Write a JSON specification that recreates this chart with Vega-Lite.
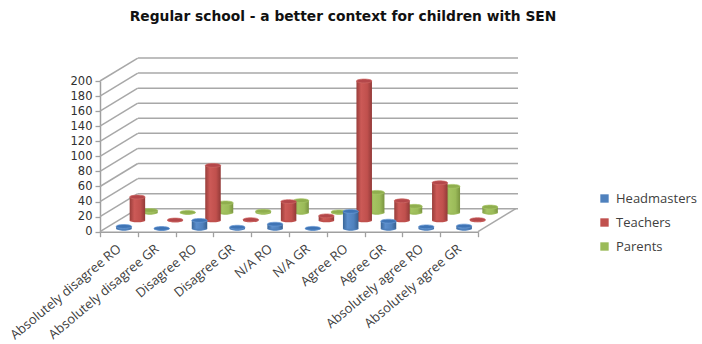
{
"$schema":"https://vega.github.io/schema/vega-lite/v6.json",
"width":378,"height":150.7,
"autosize":{"type":"none"},
"padding":{"left":100,"top":81,"right":224,"bottom":112.3},
"background":"white",
"view":{"stroke":null},
"title":{"text":"Regular school - a better context for children with SEN","anchor":"middle","dx":54,"offset":31,"font":"DejaVu Sans","fontSize":13.8,"fontWeight":"bold","color":"#111111"},
"datasets":{
"responses":[
{"category":"Absolutely disagree RO","series":"Headmasters","value":3},{"category":"Absolutely disagree RO","series":"Teachers","value":31},{"category":"Absolutely disagree RO","series":"Parents","value":3},
{"category":"Absolutely disagree GR","series":"Headmasters","value":0.3},{"category":"Absolutely disagree GR","series":"Teachers","value":0.5},{"category":"Absolutely disagree GR","series":"Parents","value":0.5},
{"category":"Disagree RO","series":"Headmasters","value":11},{"category":"Disagree RO","series":"Teachers","value":73},{"category":"Disagree RO","series":"Parents","value":13},
{"category":"Disagree GR","series":"Headmasters","value":2},{"category":"Disagree GR","series":"Teachers","value":1},{"category":"Disagree GR","series":"Parents","value":2},
{"category":"N/A RO","series":"Headmasters","value":6},{"category":"N/A RO","series":"Teachers","value":25},{"category":"N/A RO","series":"Parents","value":16},
{"category":"N/A GR","series":"Headmasters","value":0.5},{"category":"N/A GR","series":"Teachers","value":6},{"category":"N/A GR","series":"Parents","value":1},
{"category":"Agree RO","series":"Headmasters","value":23},{"category":"Agree RO","series":"Teachers","value":185},{"category":"Agree RO","series":"Parents","value":27},
{"category":"Agree GR","series":"Headmasters","value":10},{"category":"Agree GR","series":"Teachers","value":26},{"category":"Agree GR","series":"Parents","value":8.5},
{"category":"Absolutely agree RO","series":"Headmasters","value":2.5},{"category":"Absolutely agree RO","series":"Teachers","value":50},{"category":"Absolutely agree RO","series":"Parents","value":35},
{"category":"Absolutely agree GR","series":"Headmasters","value":3.5},{"category":"Absolutely agree GR","series":"Teachers","value":1},{"category":"Absolutely agree GR","series":"Parents","value":7.5}
],
"ticks":[{"tick":0},{"tick":20},{"tick":40},{"tick":60},{"tick":80},{"tick":100},{"tick":120},{"tick":140},{"tick":160},{"tick":180},{"tick":200}]
},
"data":{"name":"responses"},
"encoding":{
"x":{"field":"category","type":"nominal","title":null,
"scale":{"type":"band","paddingInner":0,"paddingOuter":0,"domain":["Absolutely disagree RO","Absolutely disagree GR","Disagree RO","Disagree GR","N/A RO","N/A GR","Agree RO","Agree GR","Absolutely agree RO","Absolutely agree GR"]},
"axis":{"tickBand":"extent","labelAngle":-40,"labelAlign":"right","labelBaseline":"middle","labelFont":"Open Sans","labelFontSize":13,"labelColor":"#404040","labelPadding":10,"tickSize":5,"tickColor":"#a0a0a0","domainColor":"#a0a0a0","tickWidth":1.3,"domainWidth":1.5,"labelOverlap":false,"labelBound":false,"labelLimit":220}},
"y":{"field":"value","type":"quantitative","title":null,
"scale":{"domain":[0,200],"nice":false},
"axis":{"values":[0,20,40,60,80,100,120,140,160,180,200],"labelFont":"DejaVu Sans","labelFontSize":11.5,"labelColor":"#303030","labelPadding":3,"tickSize":5,"tickColor":"#a0a0a0","domainColor":"#a0a0a0","tickWidth":1.3,"domainWidth":1.5,"grid":false}}
},
"layer":[
{"data":{"name":"ticks"},
 "transform":[{"calculate":"datum.tick+30.5","as":"lifted"}],
 "mark":{"type":"rule","xOffset":38,"x2Offset":40,"stroke":"#a8a8a8","strokeWidth":1.5},
 "encoding":{"x":{"value":0},"x2":{"value":378},"y":{"field":"lifted","type":"quantitative"}}},
{"data":{"name":"ticks"},
 "transform":[
  {"calculate":"['Absolutely disagree RO','Absolutely disagree GR']","as":"corner"},
  {"flatten":["corner"]},
  {"calculate":"datum.corner==='Absolutely disagree GR'?datum.tick+30.5:datum.tick","as":"lifted"}],
 "mark":{"type":"line","stroke":"#a8a8a8","strokeWidth":1.5},
 "encoding":{"x":{"field":"corner","type":"nominal","bandPosition":0},"y":{"field":"lifted","type":"quantitative"},"detail":{"field":"tick"}}},
{"data":{"name":"ticks"},
 "transform":[
  {"filter":"datum.tick===0"},
  {"calculate":"['Absolutely disagree RO','Absolutely disagree GR']","as":"corner"},
  {"flatten":["corner"]},
  {"calculate":"datum.corner==='Absolutely disagree GR'?datum.tick+30.5:datum.tick","as":"lifted"}],
 "mark":{"type":"line","xOffset":378,"stroke":"#a8a8a8","strokeWidth":1.5},
 "encoding":{"x":{"field":"corner","type":"nominal","bandPosition":0},"y":{"field":"lifted","type":"quantitative"}}},

{"transform":[{"filter":{"field":"series","equal":"Parents"}}],"layer":[
 {"mark":{"type":"point","filled":true,"opacity":1,"size":240,"xOffset":31,"yOffset":-19,"shape":"M-1,0A1,0.25,0,1,1,1,0A1,0.25,0,1,1,-1,0Z"},
  "encoding":{"y":{"datum":0,"type":"quantitative"},"color":{"field":"series","type":"nominal","scale":{"domain":["Headmasters","Teachers","Parents"],"range":["#4f81bd","#c0504d","#9bbb59"]},"legend":{"title":null,"orient":"none","legendX":498,"legendY":111,"symbolType":"square","symbolSize":70,"labelFont":"Open Sans","labelFontSize":13,"labelColor":"#404040","rowPadding":10,"labelOffset":5}}}},
 {"mark":{"type":"bar","width":15.5,"xOffset":31,"yOffset":-19,"y2Offset":-19,"fill":{"gradient":"linear","x1":0,"x2":1,"y1":0,"y2":0,"stops":[{"offset":0,"color":"#7f9a45"},{"offset":0.3,"color":"#a5c462"},{"offset":0.7,"color":"#9bbb59"},{"offset":1,"color":"#7a9440"}]}},
  "encoding":{"y2":{"datum":0}}},
 {"mark":{"type":"point","filled":true,"opacity":1,"size":240,"xOffset":31,"yOffset":-19,"fill":"#8fae4e","stroke":"#a9c768","strokeWidth":0.7,"shape":"M-1,0A1,0.25,0,1,1,1,0A1,0.25,0,1,1,-1,0Z"}}
]},

{"transform":[{"filter":{"field":"series","equal":"Teachers"}}],"layer":[
 {"mark":{"type":"point","filled":true,"opacity":1,"size":240,"xOffset":18.5,"yOffset":-11.3,"shape":"M-1,0A1,0.25,0,1,1,1,0A1,0.25,0,1,1,-1,0Z"},
  "encoding":{"y":{"datum":0,"type":"quantitative"},"color":{"field":"series","type":"nominal"}}},
 {"mark":{"type":"bar","width":15.5,"xOffset":18.5,"yOffset":-11.3,"y2Offset":-11.3,"fill":{"gradient":"linear","x1":0,"x2":1,"y1":0,"y2":0,"stops":[{"offset":0,"color":"#983d3a"},{"offset":0.3,"color":"#cc5a57"},{"offset":0.7,"color":"#c0504d"},{"offset":1,"color":"#923a38"}]}},
  "encoding":{"y2":{"datum":0}}},
 {"mark":{"type":"point","filled":true,"opacity":1,"size":240,"xOffset":18.5,"yOffset":-11.3,"fill":"#b4474a","stroke":"#cf6a66","strokeWidth":0.7,"shape":"M-1,0A1,0.25,0,1,1,1,0A1,0.25,0,1,1,-1,0Z"}}
]},

{"transform":[{"filter":{"field":"series","equal":"Headmasters"}}],"layer":[
 {"mark":{"type":"point","filled":true,"opacity":1,"size":240,"xOffset":5,"yOffset":-3,"shape":"M-1,0A1,0.25,0,1,1,1,0A1,0.25,0,1,1,-1,0Z"},
  "encoding":{"y":{"datum":0,"type":"quantitative"},"color":{"field":"series","type":"nominal"}}},
 {"mark":{"type":"bar","width":15.5,"xOffset":5,"yOffset":-3,"y2Offset":-3,"fill":{"gradient":"linear","x1":0,"x2":1,"y1":0,"y2":0,"stops":[{"offset":0,"color":"#3a6698"},{"offset":0.3,"color":"#5b8ecc"},{"offset":0.7,"color":"#4f81bd"},{"offset":1,"color":"#38608f"}]}},
  "encoding":{"y2":{"datum":0}}},
 {"mark":{"type":"point","filled":true,"opacity":1,"size":240,"xOffset":5,"yOffset":-3,"fill":"#3f74b5","stroke":"#6a9bd6","strokeWidth":0.7,"shape":"M-1,0A1,0.25,0,1,1,1,0A1,0.25,0,1,1,-1,0Z"}}
]}
]
}
